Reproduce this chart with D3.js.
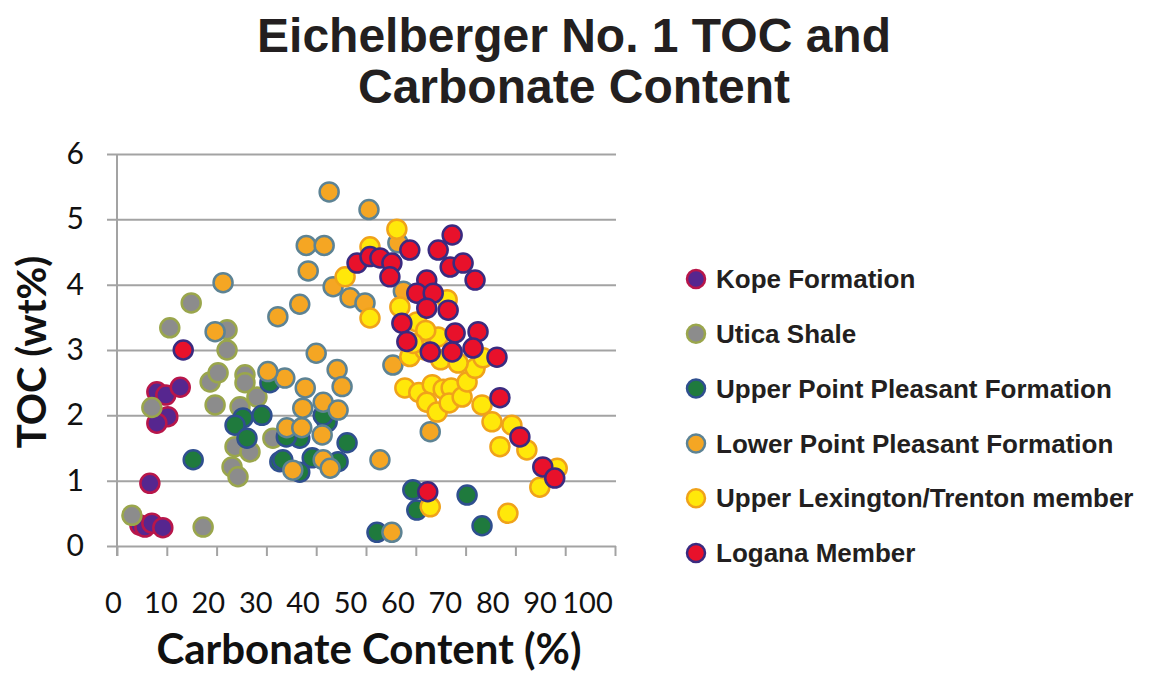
<!DOCTYPE html>
<html><head><meta charset="utf-8">
<script src="https://cdn.jsdelivr.net/npm/d3@7"></script>
<style>body{margin:0;background:#fff}</style>
</head><body>
<svg id="c" width="1151" height="677"></svg>
<script>
const titleLines = ["Eichelberger No. 1 TOC and", "Carbonate Content"];
const xLabel = "Carbonate Content (%)";
const yLabel = "TOC (wt%)";
const xTicks = [0,10,20,30,40,50,60,70,80,90,100];
const yTicks = [0,1,2,3,4,5,6];
const seriesNames = ["Kope Formation","Utica Shale","Upper Point Pleasant Formation","Lower Point Pleasant Formation","Upper Lexington/Trenton member","Logana Member"];
const seriesFill = ["#56268f","#8c8c8c","#1f7a3d","#f5a623","#ffe80a","#e8112b"];
const seriesStroke = ["#b8164a","#9aa64c","#2f4f8f","#5d8394","#f0a21a","#3a2b80"];

const kope = [[8.0,2.36],[9.8,2.31],[12.7,2.43],[10.2,1.98],[8.0,1.88],[6.6,0.96],[4.6,0.32],[5.6,0.29],[7.0,0.35],[9.2,0.28]];
const utica = [[14.9,3.72],[10.6,3.34],[22.1,3.31],[22.1,3.0],[18.7,2.51],[20.3,2.65],[25.7,2.62],[25.7,2.5],[19.7,2.16],[24.7,2.13],[28.1,2.28],[7.0,2.12],[23.7,1.52],[23.1,1.21],[24.3,1.06],[26.7,1.44],[31.3,1.65],[17.3,0.29],[3.0,0.47]];
const upperPP = [[25.3,1.96],[23.7,1.85],[26.1,1.65],[29.1,2.0],[15.3,1.32],[32.7,1.29],[42.2,1.9],[46.2,1.58],[36.7,1.65],[34.0,1.67],[33.3,1.32],[39.2,1.35],[44.4,1.29],[36.7,1.13],[59.4,0.86],[60.2,0.55],[52.2,0.21],[70.3,0.78],[73.3,0.31],[30.7,2.5],[41.4,2.0]];
const lowerPP = [[21.3,4.03],[32.3,3.51],[19.7,3.28],[42.6,5.42],[50.6,5.15],[38.0,4.6],[41.6,4.6],[38.4,4.21],[36.7,3.7],[43.4,3.97],[46.8,3.8],[49.8,3.72],[40.0,2.95],[44.2,2.7],[45.2,2.44],[37.8,2.42],[33.7,2.57],[30.3,2.67],[41.4,2.2],[37.3,2.11],[44.4,2.08],[34.1,1.81],[37.1,1.81],[41.2,1.7],[41.4,1.32],[35.3,1.16],[42.8,1.19],[52.8,1.32],[55.2,0.21],[55.4,2.77],[62.9,1.75],[56.4,4.64],[57.5,3.9]];
const upperLex = [[56.2,4.85],[50.8,4.58],[45.8,4.12],[50.8,3.49],[56.8,3.66],[60.2,3.43],[64.5,3.2],[66.3,3.77],[62.0,3.3],[57.8,2.42],[60.6,2.35],[63.3,2.47],[65.5,2.4],[67.1,2.42],[62.2,2.2],[64.3,2.05],[66.7,2.19],[69.3,2.28],[70.3,2.51],[71.9,2.72],[73.3,2.16],[75.3,1.9],[79.3,1.85],[76.9,1.52],[82.3,1.47],[84.9,0.9],[88.4,1.19],[78.5,0.5],[62.9,0.6],[58.8,2.9],[61.8,3.0],[65.0,2.85],[68.5,2.8],[73.5,2.88],[59.5,3.1]];
const logana = [[67.3,4.76],[58.8,4.53],[64.5,4.53],[48.2,4.33],[50.8,4.43],[52.8,4.41],[55.2,4.33],[54.8,4.12],[66.9,4.27],[69.5,4.33],[71.9,4.07],[62.2,4.07],[60.2,3.87],[63.5,3.87],[62.2,3.64],[66.5,3.61],[57.2,3.41],[58.2,3.13],[67.9,3.26],[72.5,3.28],[62.9,2.97],[67.3,2.97],[71.5,3.03],[76.3,2.89],[76.9,2.27],[80.9,1.67],[85.5,1.21],[87.9,1.04],[62.4,0.83],[13.3,3.0]];
const seriesData = [kope, utica, upperPP, lowerPP, upperLex, logana];

const svg = d3.select("#c");
const x = d3.scaleLinear().domain([0,100]).range([117,615]);
const xLab = d3.scaleLinear().domain([0,100]).range([113,587]);
const y = d3.scaleLinear().domain([0,6]).range([546,154]);

// title
svg.append("g").selectAll("text").data(titleLines).join("text")
  .attr("x",574).attr("y",(d,i)=>52+i*51).attr("text-anchor","middle")
  .attr("font-family","Liberation Sans, Arial, sans-serif").attr("font-weight","bold")
  .attr("font-size",48).attr("fill","#231f20").text(d=>d);

// gridlines via axis
const grid = svg.append("g").attr("transform","translate(107,0)")
  .call(d3.axisRight(y).tickValues(yTicks).tickSize(509).tickFormat(""));
grid.select(".domain").remove();
grid.selectAll("line").attr("stroke","#a3a3a3").attr("stroke-width",2);

// y axis line
svg.append("line").attr("x1",x(0)).attr("x2",x(0)).attr("y1",y(6)).attr("y2",y(0)+10)
  .attr("stroke","#a3a3a3").attr("stroke-width",2);

// x ticks
const xa = svg.append("g").attr("transform",`translate(0,${y(0)})`)
  .call(d3.axisBottom(x).tickValues(xTicks).tickSize(10).tickFormat(""));
xa.select(".domain").remove();
xa.selectAll("line").attr("stroke","#a3a3a3").attr("stroke-width",2);

// x tick labels
const xl = svg.append("g").attr("transform","translate(0,592)")
  .call(d3.axisBottom(xLab).tickValues(xTicks).tickSize(0).tickPadding(0).tickFormat(d3.format("d")));
xl.select(".domain").remove();
xl.selectAll("text").attr("font-family","Lato, sans-serif").attr("font-size",29).attr("fill","#111").attr("dy","0.71em");

// y tick labels
const yl = svg.append("g").attr("transform","translate(84,0)")
  .call(d3.axisLeft(y).tickValues(yTicks).tickSize(0).tickPadding(0).tickFormat(d3.format("d")));
yl.select(".domain").remove();
yl.selectAll("text").attr("font-family","Lato, sans-serif").attr("font-size",30).attr("fill","#111");

// axis titles
svg.append("text").attr("x",369).attr("y",664).attr("text-anchor","middle")
  .attr("font-family","Lato, sans-serif").attr("font-weight","bold").attr("font-size",42)
  .attr("fill","#111").text(xLabel);
svg.append("text").attr("transform","translate(46,352) rotate(-90)").attr("text-anchor","middle")
  .attr("font-family","Lato, sans-serif").attr("font-weight","bold").attr("font-size",40)
  .attr("fill","#111").text(yLabel);

// points
seriesData.forEach((data,i)=>{
  svg.append("g").selectAll("circle").data(data).join("circle")
    .attr("cx",d=>x(d[0])).attr("cy",d=>y(d[1])).attr("r",9.5)
    .attr("fill",seriesFill[i]).attr("stroke",seriesStroke[i]).attr("stroke-width",2.5);
});

// legend
const lg = svg.append("g").selectAll("g").data(seriesNames).join("g")
  .attr("transform",(d,i)=>`translate(696,${279+i*54.8})`);
lg.append("circle").attr("r",9).attr("fill",(d,i)=>seriesFill[i]).attr("stroke",(d,i)=>seriesStroke[i]).attr("stroke-width",2.5);
lg.append("text").attr("x",20).attr("dy","0.35em")
  .attr("font-family","Liberation Sans, Arial, sans-serif").attr("font-weight","bold").attr("font-size",26)
  .attr("fill","#231f20").text(d=>d);
</script>
</body></html>
